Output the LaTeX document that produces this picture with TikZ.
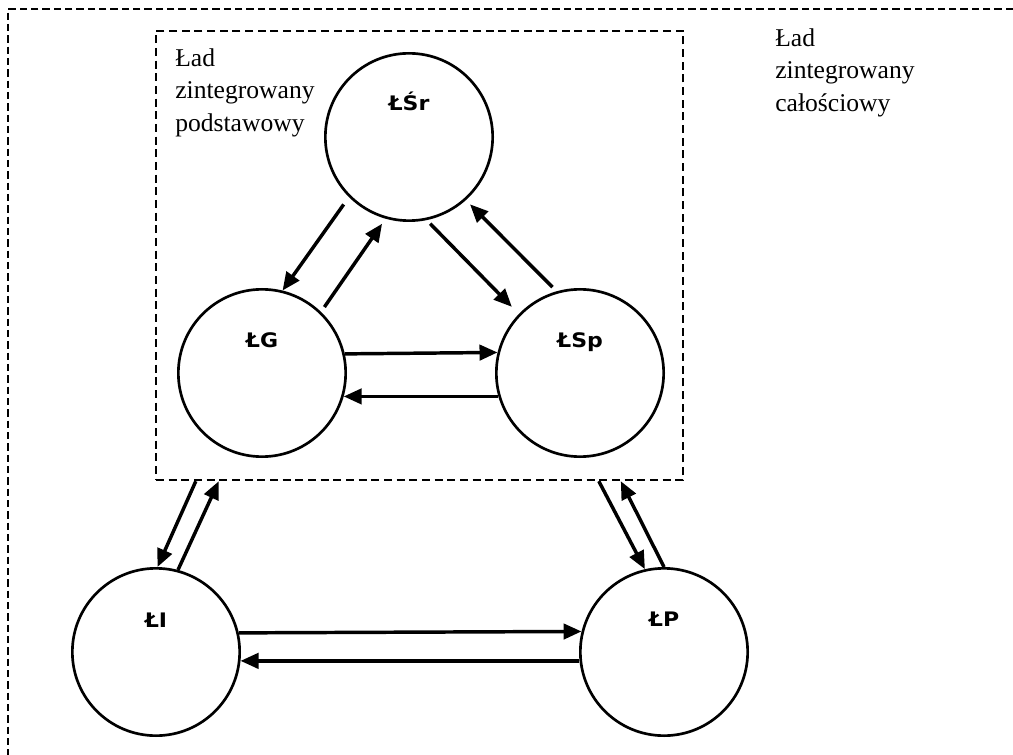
\documentclass[tikz,border=0pt]{standalone}
\usepackage{fontspec}
\setmainfont{Liberation Serif}
\newfontfamily\labfont{DejaVu Sans}[FakeStretch=1.1]
\usetikzlibrary{arrows.meta,calc}
\begin{document}
\begin{tikzpicture}[x=0.75pt,y=-0.75pt,
  circ/.style={circle,draw,line width=2pt,minimum size=125.5pt,inner sep=0pt},
  lab/.style={font=\labfont\bfseries\fontsize{15pt}{17pt}\selectfont,anchor=base,inner sep=0pt},
  txt/.style={font=\fontsize{19.2pt}{24.4pt}\selectfont,align=left,anchor=north west,inner sep=0pt},
  arr/.style={line width=2.6pt,-{Triangle[length=13.5pt,width=11.5pt]}},
  frame/.style={line width=1.7pt,dash pattern=on 5.5pt off 3pt},
  box/.style={draw,line width=1.8pt,dash pattern=on 6pt off 3.5pt,inner sep=0pt,
    minimum width=395.25pt,minimum height=336.75pt}
]
\useasboundingbox (0,0) rectangle (1013,755);
% outer frame (top and left edges visible)
\coordinate (ftr) at (1013,9);
\coordinate (ftl) at (8,9);
\coordinate (fbl) at (8,755);
\draw[frame] (ftr) -- (ftl) -- (fbl);

% inner box
\node[box] (core) at (419.5,255.5) {};

% texts
\node[txt] (tin) at (175,48) {Ład\\zintegrowany\\podstawowy};
\node[txt] (tout) at (775,28) {Ład\\zintegrowany\\całościowy};

% circles
\node[circ] (lsr) at (409,137) {};
\node[circ] (lg) at (262,373) {};
\node[circ] (lsp) at (580,373) {};
\node[circ] (li) at (156,652) {};
\node[circ] (lp) at (664,652) {};

% labels
\node[lab] (tlsr) at ($(lsr)+(0,-26)$) {ŁŚr};
\node[lab] (tlg) at ($(lg)+(0,-25)$) {ŁG};
\node[lab] (tlsp) at ($(lsp)+(0,-25)$) {ŁSp};
\node[lab] (tli) at ($(li)+(0,-25)$) {ŁI};
\node[lab] (tlp) at ($(lp)+(0,-26)$) {ŁP};

% arrows in the inner triangle
\draw[arr,shorten <=6.75pt] (lsr.225) -- (lg.76.6);
\draw[arr,shorten <=4.4pt,shorten >=4.6pt] (lg.46.4) -- (lsr.254.6);
\draw[arr,shorten <=3.7pt,shorten >=7.5pt] (lsr.282.3) -- (lsp.136.3);
\draw[arr,shorten <=4.4pt,shorten >=4.4pt] (lsp.106.8) -- (lsr.312.7);
\draw[arr] (lg.13.8) -- (lsp.166.2);
\draw[arr] (lsp.196.6) -- (lg.-16.6);

% arrows between the box and the outer circles
\draw[arr] ($(core.south west)+(41,0)$) -- (li.89.3);
\draw[arr] (li.75.5) -- ($(core.south west)+(64,0)$);
\draw[arr] ($(core.south west)+(444,0)$) -- (lp.103.9);
\draw[arr] (lp.90.7) -- ($(core.south west)+(466,0)$);

% bottom pair
\draw[arr] (li.13.1) -- (lp.166.9);
\draw[arr] (lp.186.8) -- (li.-6.8);
\end{tikzpicture}
\end{document}
